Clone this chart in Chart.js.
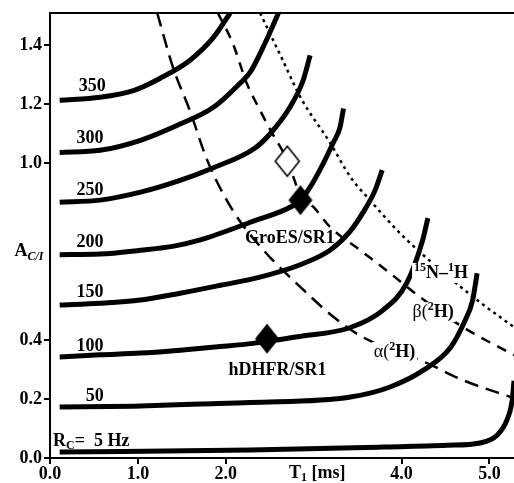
<!DOCTYPE html>
<html><head><meta charset="utf-8">
<script src="https://cdn.jsdelivr.net/npm/chart.js@4/dist/chart.umd.min.js"></script>
<style>html,body{margin:0;padding:0;background:#fff;overflow:hidden;width:514px;height:483px}</style>
</head><body>
<canvas id="c" width="514" height="483"></canvas>
<script>
// ---- tick labels ----
const xTickValues = [0, 1, 2, 4, 5];
const yTickValues = [0, 0.2, 0.4, 1.0, 1.2, 1.4];

// ---- R_C curves (T1 [ms], A_C/I) ----
const rc5   = [[0.11,0.020],[2.28,0.027],[3.79,0.037],[4.52,0.043],[4.89,0.051],[5.09,0.078],[5.20,0.129],[5.26,0.197],[5.28,0.262]];
const rc50  = [[0.11,0.173],[0.95,0.176],[1.71,0.183],[2.28,0.188],[3.42,0.207],[3.87,0.241],[4.25,0.298],[4.56,0.376],[4.71,0.458],[4.81,0.536],[4.86,0.627]];
const rc100 = [[0.11,0.343],[0.57,0.350],[1.03,0.356],[1.48,0.366],[1.94,0.378],[2.31,0.389],[2.47,0.396],[2.84,0.412],[3.41,0.442],[3.79,0.502],[4.06,0.594],[4.24,0.739],[4.30,0.814]];
const rc150 = [[0.11,0.519],[0.57,0.525],[1.03,0.536],[1.48,0.559],[1.94,0.586],[2.39,0.614],[2.84,0.655],[3.19,0.706],[3.41,0.767],[3.58,0.842],[3.70,0.909],[3.78,0.977]];
const rc200 = [[0.11,0.690],[0.57,0.692],[1.03,0.705],[1.41,0.719],[1.71,0.740],[2.28,0.800],[2.76,0.855],[2.85,0.875],[2.96,0.919],[3.11,1.000],[3.22,1.068],[3.30,1.122],[3.34,1.186]];
const rc250 = [[0.11,0.868],[0.57,0.875],[1.03,0.902],[1.48,0.942],[1.86,0.985],[2.33,1.051],[2.51,1.102],[2.73,1.190],[2.88,1.281],[2.96,1.366]];
const rc300 = [[0.11,1.037],[0.57,1.044],[1.03,1.078],[1.45,1.129],[1.86,1.190],[2.16,1.271],[2.28,1.310],[2.45,1.410],[2.60,1.510]];
const rc350 = [[0.11,1.214],[0.57,1.224],[0.95,1.247],[1.25,1.288],[1.59,1.349],[1.86,1.427],[2.05,1.510]];

// ---- limit lines ----
const alpha2H = [[1.22,1.510],[1.40,1.325],[1.59,1.180],[1.79,1.010],[2.08,0.840],[2.43,0.705],[2.85,0.580],[3.27,0.468],[3.56,0.410],[4.29,0.322],[4.70,0.264],[5.28,0.203]];
const beta2H  = [[1.91,1.510],[2.08,1.407],[2.24,1.271],[2.39,1.180],[2.51,1.112],[2.70,1.010],[2.85,0.892],[3.00,0.851],[3.19,0.783],[3.53,0.705],[3.87,0.627],[4.21,0.546],[4.70,0.444],[5.28,0.349]];
const nh15    = [[2.39,1.510],[2.65,1.349],[2.85,1.224],[3.19,1.068],[3.42,0.953],[3.64,0.875],[3.95,0.773],[4.25,0.688],[4.86,0.536],[5.28,0.444]];

// ---- experimental points ----
const groesFilled = [[2.85,0.875]];
const groesOpen   = [[2.70,1.007]];
const hdhfrFilled = [[2.47,0.405]];

const toXY = a => a.map(p => ({x:p[0], y:p[1]}));

function diamond(w, h, fill, stroke) {
  const c = document.createElement('canvas');
  c.width = w + 4; c.height = h + 4;
  const g = c.getContext('2d');
  g.beginPath();
  g.moveTo(c.width/2, 2); g.lineTo(c.width-2, c.height/2);
  g.lineTo(c.width/2, c.height-2); g.lineTo(2, c.height/2); g.closePath();
  g.fillStyle = fill; g.fill();
  if (stroke) { g.lineWidth = 1.6; g.strokeStyle = stroke; g.stroke(); }
  return c;
}
const dFilled = diamond(24, 30, '#000', null);
const dOpen = diamond(24, 30, '#fff', '#000');

const B = 'bold 18px "Liberation Serif"';
const BS = 'bold 12px "Liberation Serif"';
const R = '18px "Liberation Serif"';

const annotations = [
  {x:0.48, y:1.262, segs:[['350',B]]},
  {x:0.455,y:1.086, segs:[['300',B]]},
  {x:0.455,y:0.909, segs:[['250',B]]},
  {x:0.455,y:0.733, segs:[['200',B]]},
  {x:0.455,y:0.563, segs:[['150',B]]},
  {x:0.455,y:0.380, segs:[['100',B]]},
  {x:0.51, y:0.210, segs:[['50',B]]},
  {x:0.035,y:0.058, align:'left', segs:[['R',B],['C',BS,5],['=  5 Hz',B]]},
  {x:2.73, y:0.747, segs:[['GroES/SR1',B]]},
  {x:2.59, y:0.299, segs:[['hDHFR/SR1',B]]},
  {x:4.45, y:0.628, bg:true, segs:[['15',BS,-5],['N\u2013',B],['1',BS,-5],['H',B]]},
  {x:4.36, y:0.495, bg:true, segs:[['\u03B2(',R],['2',BS,-5],['H)',B]]},
  {x:3.92, y:0.360, bg:true, segs:[['\u03B1(',R],['2',BS,-5],['H)',B]]}
];

function drawRich(ctx, segs, x, y, align, bg) {
  let w = 0;
  segs.forEach(s => { ctx.font = s[1]; w += ctx.measureText(s[0]).width; });
  let sx = align === 'left' ? x : x - w/2;
  if (bg) { ctx.fillStyle = '#fff'; ctx.fillRect(sx-2, y-10, w+4, 20); }
  ctx.fillStyle = '#000'; ctx.textBaseline = 'middle'; ctx.textAlign = 'left';
  segs.forEach(s => { ctx.font = s[1]; ctx.fillText(s[0], sx, y + (s[2]||0)); sx += ctx.measureText(s[0]).width; });
}

const textPlugin = {
  id: 'texts',
  afterDatasetsDraw(chart) {
    const ctx = chart.ctx, xs = chart.scales.x, ys = chart.scales.y, a = chart.chartArea;
    ctx.save();
    ctx.strokeStyle = '#000'; ctx.lineWidth = 2;
    ctx.beginPath(); ctx.moveTo(a.left-1, a.top); ctx.lineTo(a.right, a.top); ctx.stroke();
    annotations.forEach(t => drawRich(ctx, t.segs, xs.getPixelForValue(t.x), ys.getPixelForValue(t.y), t.align, t.bg));
    ctx.restore();
  },
  afterDraw(chart) {
    const ctx = chart.ctx, xs = chart.scales.x, ys = chart.scales.y, a = chart.chartArea;
    ctx.save();
    drawRich(ctx, [['A',B],['C/I','bold italic 12px "Liberation Serif"',5]], a.left - 21, ys.getPixelForValue(0.70), 'center');
    drawRich(ctx, [['T',B],['1',BS,5],[' [ms]',B]], xs.getPixelForValue(3.04), a.bottom + 15, 'center');
    ctx.restore();
  }
};

const solid = (d) => ({data: toXY(d), order:1, borderColor:'#000', borderWidth:5, pointRadius:0, fill:false, cubicInterpolationMode:'monotone', borderCapStyle:'butt'});
const dashed = (d, dash, w) => ({data: toXY(d), order:2, borderColor:'#000', borderWidth:w, borderDash:dash, pointRadius:0, fill:false, cubicInterpolationMode:'monotone'});
const pts = (d, img) => ({data: toXY(d), order:0, showLine:false, pointStyle: img, pointRadius: 12, pointHoverRadius: 12});

new Chart(document.getElementById('c'), {
  type: 'line',
  data: { datasets: [
    pts(groesOpen, dOpen), pts(groesFilled, dFilled), pts(hdhfrFilled, dFilled),
    solid(rc5), solid(rc50), solid(rc100), solid(rc150), solid(rc200), solid(rc250), solid(rc300), solid(rc350),
    dashed(alpha2H, [14,8], 2.5),
    dashed(beta2H, [10,8], 2.5),
    dashed(nh15, [3,4], 2.5)
  ]},
  options: {
    responsive: false, animation: false, devicePixelRatio: 1,
    layout: { padding: { top: 13, right: 0, left: 0, bottom: 0 }, autoPadding: false },
    plugins: { legend: {display:false}, tooltip: {enabled:false} },
    events: [],
    scales: {
      x: {
        type: 'linear', min: 0, max: 5.28,
        afterFit: s => { s.height = 25; },
        afterBuildTicks: s => { s.ticks = xTickValues.map(v => ({value:v})); },
        border: { display:true, color:'#000', width:2 },
        grid: { display:true, drawOnChartArea:false, drawTicks:true, tickLength:6, color:'#000', lineWidth:2 },
        ticks: { color:'#000', padding:0, maxRotation:0, autoSkip:false, font:{family:'Liberation Serif', size:18, weight:'bold'}, callback: v => Number(v).toFixed(1) }
      },
      y: {
        type: 'linear', min: 0, max: 1.51,
        afterFit: s => { s.width = 50; },
        afterBuildTicks: s => { s.ticks = yTickValues.map(v => ({value:v})); },
        border: { display:true, color:'#000', width:2 },
        grid: { display:true, drawOnChartArea:false, drawTicks:true, tickLength:6, color:'#000', lineWidth:2 },
        ticks: { color:'#000', padding:2, autoSkip:false, font:{family:'Liberation Serif', size:18, weight:'bold'}, callback: v => Number(v).toFixed(1) }
      }
    }
  },
  plugins: [textPlugin]
});
</script>
</body></html>
